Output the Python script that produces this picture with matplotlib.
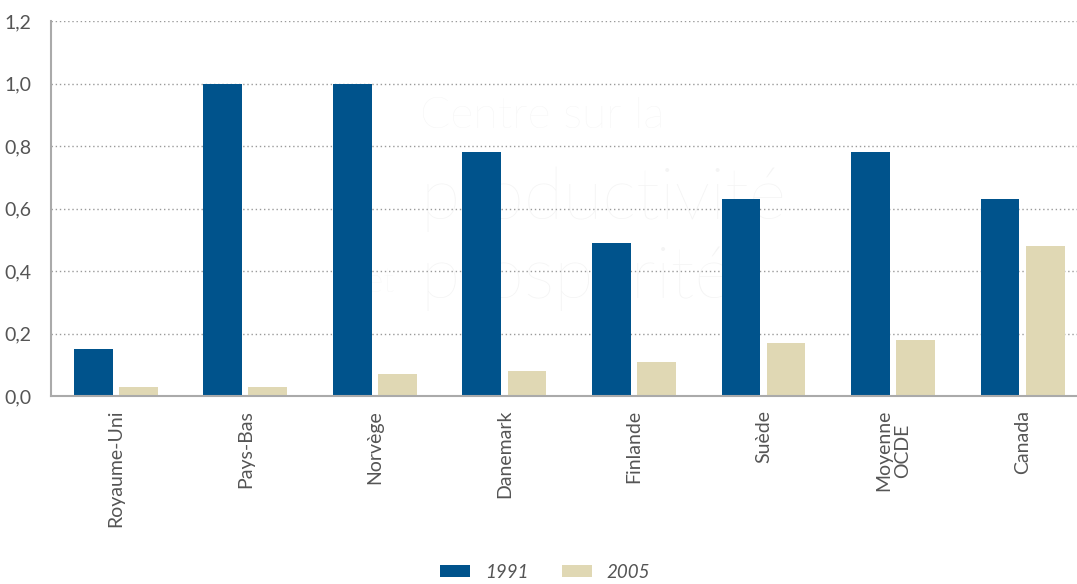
import matplotlib
matplotlib.use("Agg")
import matplotlib.pyplot as plt
import numpy as np
from matplotlib.patches import Patch

categories = ["Royaume-Uni", "Pays-Bas", "Norvège", "Danemark", "Finlande", "Suède", "Moyenne\nOCDE", "Canada"]
series_names = ["1991", "2005"]
values_1991 = [0.15, 1.00, 1.00, 0.78, 0.49, 0.63, 0.78, 0.63]
values_2005 = [0.03, 0.03, 0.07, 0.08, 0.11, 0.17, 0.18, 0.48]
y_ticks = [0.0, 0.2, 0.4, 0.6, 0.8, 1.0, 1.2]
y_tick_labels = ["0,0", "0,2", "0,4", "0,6", "0,8", "1,0", "1,2"]

blue = "#00538C"
beige = "#E0D8B4"
txt = "#555555"

plt.rcParams['font.family'] = ['Lato', 'DejaVu Sans']

fig = plt.figure(figsize=(10.77, 5.84), dpi=100)
ax = fig.add_axes([51/1077, 1-396/584, 1-51/1077, (396-21)/584])

x = np.arange(len(categories))
w = 0.30
off = 0.174
ax.bar(x - off, values_1991, width=w, color=blue, zorder=3)
ax.bar(x + off, values_2005, width=w, color=beige, zorder=3)

ax.set_xlim(-0.5, 7.42)
ax.set_ylim(0, 1.2)
ax.set_yticks(y_ticks)
ax.set_yticklabels(y_tick_labels, color=txt, fontsize=14)
ax.set_xticks(x)
ax.set_xticklabels(categories, rotation=90, color=txt, fontsize=14, va='top', ha='center',
                   multialignment='center', linespacing=1.1)
ax.tick_params(axis='x', length=0, pad=10)
ax.tick_params(axis='y', length=0, pad=14)

for yv in y_ticks[1:]:
    ax.axhline(yv, color='#9a9a9a', linestyle=(0, (1, 2)), linewidth=1, zorder=1)

for s in ['top', 'right']:
    ax.spines[s].set_visible(False)
for s in ['left', 'bottom']:
    ax.spines[s].set_color('#aaaaaa')
    ax.spines[s].set_linewidth(1.5)
ax.spines['bottom'].set_zorder(4)

# faint watermark (behind bars)
wm = dict(transform=fig.transFigure, color='#f4f4f4', zorder=0.5, fontweight='light')
ax.text(0.39, 0.78, "Centre sur la", fontsize=32, **wm)
ax.text(0.39, 0.625, "productivité", fontsize=52, **wm)
ax.text(0.34, 0.50, "et", fontsize=24, **wm)
ax.text(0.39, 0.49, "prospérité", fontsize=52, **wm)

handles = [Patch(facecolor=blue, edgecolor='none'), Patch(facecolor=beige, edgecolor='none')]
leg = fig.legend(handles, series_names, loc='center', bbox_to_anchor=(545/1077, 1-572/584), ncol=2,
                 frameon=False, handlelength=1.6, handleheight=0.65, handletextpad=0.8, columnspacing=1.8,
                 prop={'style': 'italic', 'size': 13.5})
for t in leg.get_texts():
    t.set_color(txt)

fig.savefig("out.png", dpi=100)
